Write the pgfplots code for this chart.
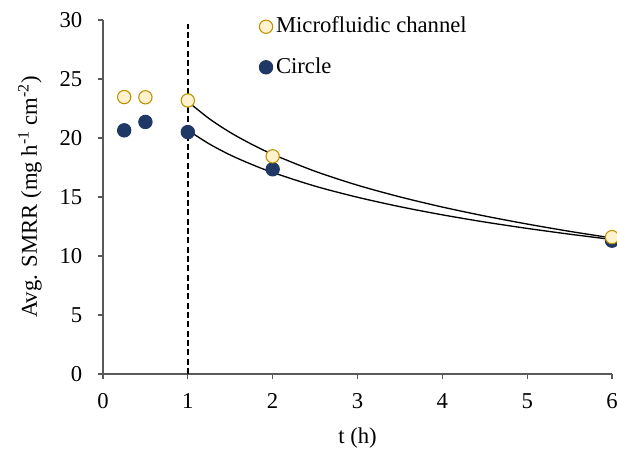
\documentclass[border=0pt]{standalone}
\usepackage{pgfplots}
\pgfplotsset{compat=1.18}
\usepackage{fontspec}
\setmainfont{Liberation Serif}
\definecolor{mfill}{HTML}{FFF2CC}
\definecolor{medge}{HTML}{BF9000}
\definecolor{navy}{HTML}{1F3864}
\definecolor{axgray}{HTML}{595959}
\begin{document}
\fontsize{17}{20}\selectfont
\begin{tikzpicture}
\useasboundingbox (-77.25pt,-57.75pt) rectangle (385.5pt,280.5pt);
\begin{axis}[
  scale only axis, width=381.75pt, height=265.5pt,
  at={(0,0)}, anchor=south west,
  xmin=0, xmax=6, ymin=0, ymax=30,
  axis lines*=left,
  axis line style={axgray, line width=0.9pt},
  tick style={axgray, line width=0.9pt},
  xtick={0,1,...,6}, ytick={0,5,...,30},
  tick align=outside, major tick length=3.75pt,
  /pgf/number format/assume math mode=true,
  ticklabel style={font=\fontsize{17}{20}\selectfont, black},
  xticklabel style={yshift=-5pt},
  yticklabel style={xshift=-6pt},
  xlabel={t (h)},
  ylabel={Avg. SMRR (mg h\textsuperscript{-1} cm\textsuperscript{-2})},
  xlabel style={at={(axis description cs:0.5,-0.181)}, anchor=center},
  ylabel style={at={(axis description cs:-0.1434,0.5)}, anchor=center},
  clip=false,
  reverse legend,
  legend cell align=left,
  legend style={at={(axis cs:1.84,30.5)}, anchor=north west, draw=none, fill=none,
    inner sep=0pt, row sep=12pt, font=\fontsize{17}{20}\selectfont,
    nodes={inner xsep=2.5pt}},
  legend image code/.code={\draw[mark repeat=2,mark phase=2,#1] plot coordinates {(-4pt,0pt) (0pt,0pt) (4pt,0pt)};},
]
\addplot[black, dashed, dash pattern=on 4.5pt off 2.5pt, line width=1.1pt, forget plot] coordinates {(1,0) (1,29.7)};
\addplot[black, line width=1pt, smooth, forget plot] coordinates {
(1,23.09) (1.25,21.65) (1.5,20.47) (1.75,19.48) (2,18.62) (2.5,17.18) (3,16.00)
(3.5,15.01) (4,14.15) (4.5,13.39) (5,12.71) (5.5,12.09) (6,11.53)};
\addplot[black, line width=1pt, smooth, forget plot] coordinates {
(1,20.66) (1.25,19.51) (1.5,18.56) (1.75,17.77) (2,17.08) (2.5,15.92) (3,14.98)
(3.5,14.18) (4,13.49) (4.5,12.88) (5,12.34) (5.5,11.85) (6,11.40)};
\addplot[only marks, mark=*, mark size=5pt, draw=navy, fill=navy, line width=0.8pt] coordinates {
(0.25,20.65) (0.5,21.36) (1,20.5) (2,17.35) (6,11.3)};
\addlegendentry{Circle}
\addplot[only marks, mark=*, mark size=5pt, draw=medge, fill=mfill, line width=0.8pt] coordinates {
(0.25,23.47) (0.5,23.45) (1,23.18) (2,18.45) (6,11.6)};
\addlegendentry{Microfluidic channel}
\end{axis}
\end{tikzpicture}
\end{document}
